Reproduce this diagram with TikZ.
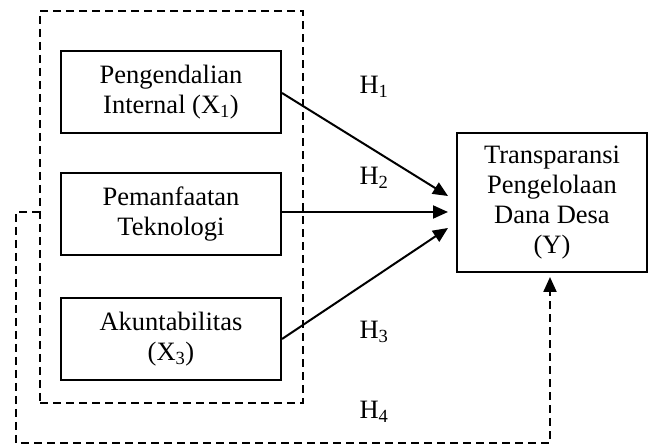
\documentclass[tikz,border=0pt]{standalone}
\usepackage{fontspec}
\setmainfont{Liberation Serif}
\usetikzlibrary{arrows.meta}
\begin{document}
\begin{tikzpicture}[x=1pt,y=-1pt,
  txt/.style={font=\fontsize{26.5}{30}\selectfont, align=center, inner sep=0pt},
  varbox/.style={txt, draw, line width=2pt, minimum width=220pt, minimum height=82pt},
  ybox/.style={txt, draw, line width=2pt, minimum width=190pt, minimum height=139pt},
  dashline/.style={line width=2.2pt, dash pattern=on 8pt off 5pt},
  conn/.style={line width=2pt, -{Triangle[length=15pt,width=13pt]}},
  hlab/.style={txt}
]
\useasboundingbox (0,0) rectangle (654,446);
\node[dashline, draw, minimum width=263pt, minimum height=392pt, inner sep=0pt] (grp) at (171.5,207) {};
\node[varbox] (x1) at (171,92) {Pengendalian\\Internal (X\textsubscript{1})};
\node[varbox] (x2) at (171,214.5) {Pemanfaatan\\Teknologi};
\node[varbox] (x3) at (171,339) {Akuntabilitas\\(X\textsubscript{3})};
\node[ybox] (y) at (552,202.5) {Transparansi\\Pengelolaan\\Dana Desa\\(Y)};
\coordinate (t1) at (448,196);
\coordinate (t2) at (448,212);
\coordinate (t3) at (448,228);
\coordinate (t4) at (550,277);
\coordinate (s4) at (40,212);
\draw[conn] (x1.east |- 0,93) -- (t1);
\draw[conn] (x2.east |- 0,212) -- (t2);
\draw[conn] (x3.east |- 0,339) -- (t3);
\draw[dashline, -{Triangle[length=15pt,width=13pt]}] (s4) -- (16,212) -- (16,443) -- (550,443) -- (t4);
\node[hlab] (h1) at (374,87) {H\textsubscript{1}};
\node[hlab] (h2) at (374,178) {H\textsubscript{2}};
\node[hlab] (h3) at (374,332) {H\textsubscript{3}};
\node[hlab] (h4) at (374,412) {H\textsubscript{4}};
\end{tikzpicture}
\end{document}
